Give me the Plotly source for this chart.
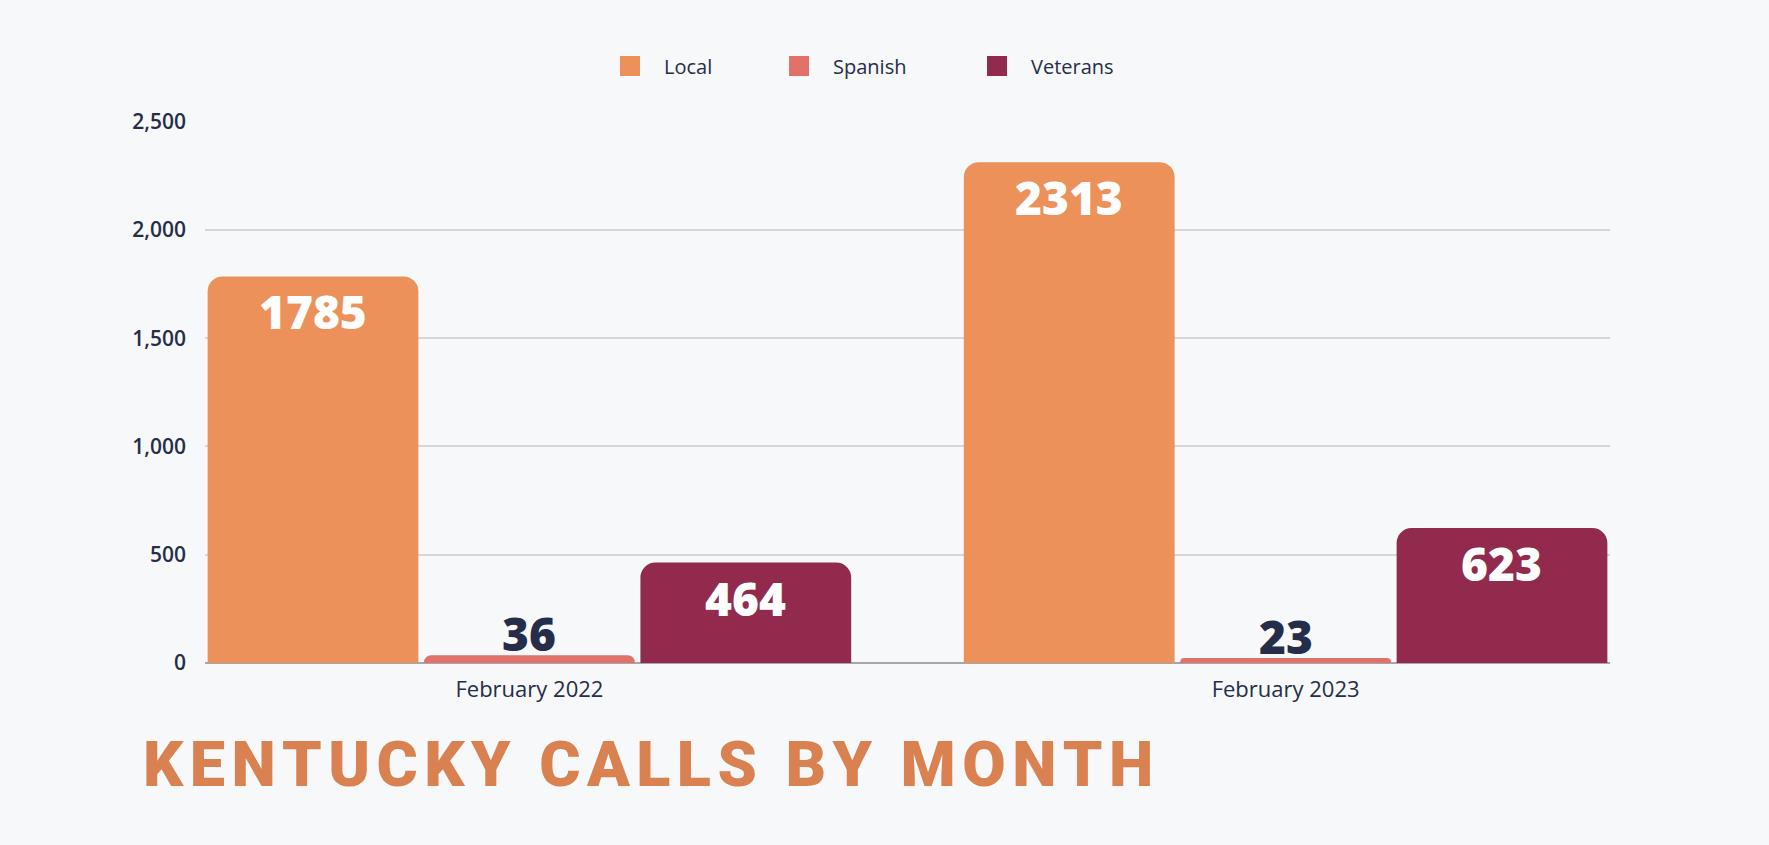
import plotly.graph_objects as go

months = ["February 2022", "February 2023"]
series_names = ["Local", "Spanish", "Veterans"]
local_vals = [1785, 2313]
spanish_vals = [36, 23]
veterans_vals = [464, 623]
y_ticks = [0, 500, 1000, 1500, 2000, 2500]
y_tick_labels = ["0", "500", "1,000", "1,500", "2,000", "2,500"]
title_text = "KENTUCKY CALLS BY MONTH"

colors = ["#EC915A", "#E2716A", "#922A4E"]
navy = "#252E48"
bg = "#F7F8FA"
FONT = "Open Sans"
BARGAP = 0.1415
LABEL_MIN_INSIDE = 200

all_vals = [local_vals, spanish_vals, veterans_vals]

fig = go.Figure()
for name, vals, col in zip(series_names, all_vals, colors):
    fig.add_trace(go.Bar(
        name=name, x=months, y=vals, marker=dict(color=col, line=dict(width=0)),
        showlegend=False, hoverinfo="x+y+name",
    ))

# value labels, placed with the library's data scales
slot = (1 - BARGAP) / len(series_names)
for j, (vals, col) in enumerate(zip(all_vals, colors)):
    for i, v in enumerate(vals):
        inside = v > LABEL_MIN_INSIDE
        fig.add_annotation(
            x=i + (j - (len(series_names) - 1) / 2) * slot, y=v,
            xref="x", yref="y", text=str(v), showarrow=False,
            yanchor="top" if inside else "bottom",
            yshift=-2 if inside else -11,
            font=dict(family=FONT, size=46, color="white" if inside else navy, weight=800),
        )

# legends: one per series so each entry sits where the reference puts it
legend_x = [0.2783, 0.3986, 0.5395]
for k, (name, col) in enumerate(zip(series_names, colors)):
    lg = "legend" if k == 0 else f"legend{k + 1}"
    fig.add_trace(go.Scatter(
        x=[None], y=[None], mode="markers", name=name, legend=lg,
        marker=dict(symbol="square", size=16, color=col, line=dict(color=col, width=4)),
        showlegend=True, hoverinfo="skip",
    ))

legend_style = dict(orientation="h", xanchor="left", y=1.1015, yanchor="middle",
                    font=dict(family=FONT, size=20, color=navy, weight=500),
                    bgcolor="rgba(0,0,0,0)", itemwidth=58)

spaced = "\u200a".join(list(title_text))

fig.update_layout(
    width=1769, height=845,
    paper_bgcolor=bg, plot_bgcolor=bg,
    margin=dict(l=205, r=159, t=121, b=182),
    barmode="group", bargap=BARGAP, bargroupgap=0.026, barcornerradius=15,
    font=dict(family=FONT, color=navy, size=17),
    legend=dict(x=legend_x[0], **legend_style),
    legend2=dict(x=legend_x[1], **legend_style),
    legend3=dict(x=legend_x[2], **legend_style),
    title=dict(text=spaced, x=143 / 1769, xanchor="left", xref="container",
               y=1 - 764 / 845, yanchor="middle", yref="container",
               font=dict(family="Roboto", size=63, color="#D98150", weight=900)),
    xaxis=dict(range=[-0.429, 1.429], showgrid=False, zeroline=False, showline=False,
               ticks="", tickfont=dict(family=FONT, size=22, color=navy, weight=500),
               ticklabelstandoff=11),
    yaxis=dict(range=[0, 2503], tickvals=y_ticks, ticktext=y_tick_labels,
               showgrid=True, gridcolor="#D3D6DD", gridwidth=1.5,
               zeroline=True, zerolinecolor="#A3A7B0", zerolinewidth=1.5,
               showline=False, ticks="",
               tickfont=dict(family=FONT, size=21, color=navy, weight=600),
               ticklabelstandoff=18),
)

fig.write_html("out.html", config={"displayModeBar": False},
               post_script="document.body.style.margin='0';document.body.style.background='%s';" % bg)
